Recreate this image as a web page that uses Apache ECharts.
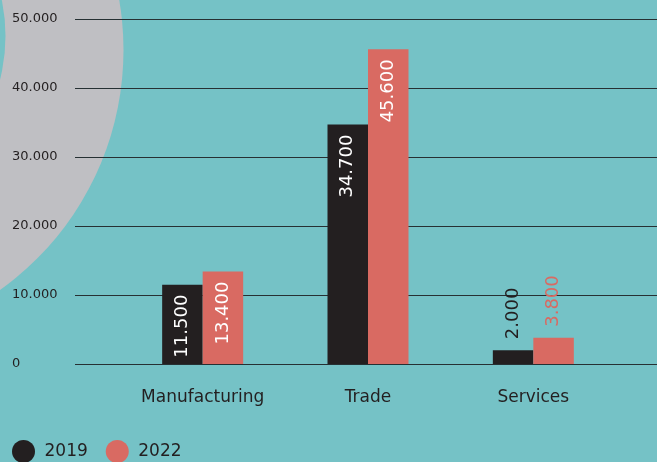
<!DOCTYPE html>
<html>
<head>
<meta charset="utf-8">
<script src="https://cdn.jsdelivr.net/npm/echarts@6/dist/echarts.min.js"></script>
<style>html,body{margin:0;padding:0;background:#75c2c6;}#c{width:657px;height:462px;}</style>
</head>
<body>
<div id="c"></div>
<script>
const categories = ['Manufacturing', 'Trade', 'Services'];
const seriesNames = ['2019', '2022'];
const values2019 = [11500, 34700, 2000];
const values2022 = [13400, 45600, 3800];
const yTicks = [0, 10000, 20000, 30000, 40000, 50000];

const DARK = '#231f20';
const SALMON = '#d96a62';

function fmt(v) {
  return String(v).replace(/\B(?=(\d{3})+(?!\d))/g, '.');
}

const insideLabel = {
  show: true, position: 'insideTop', rotate: 90, align: 'right', verticalAlign: 'middle',
  distance: 10, color: '#ffffff', fontFamily: 'DejaVu Sans', fontSize: 18,
  formatter: p => fmt(p.value)
};
function dataWithLabels(vals, outsideColor) {
  return vals.map(v => {
    if (v < 8000) {
      return { value: v, label: { position: 'top', align: 'left', color: outsideColor, distance: 11 } };
    }
    return v;
  });
}

const chart = echarts.init(document.getElementById('c'), null, { renderer: 'canvas' });
chart.setOption({
  backgroundColor: '#75c2c6',
  animation: false,
  graphic: [
    { type: 'circle', z: -10, silent: true, shape: { cx: -171.5, cy: 50, r: 295 }, style: { fill: '#bfbfc3' } },
    { type: 'circle', z: -9, silent: true, shape: { cx: -171.5, cy: 36, r: 177 }, style: { fill: '#75c2c6' } }
  ],
  legend: {
    left: 12, top: 440, padding: 0, itemWidth: 23, itemHeight: 23, itemGap: 18, icon: 'circle',
    textStyle: { color: DARK, fontFamily: 'DejaVu Sans', fontSize: 17, padding: [0, 0, 0, 4.5] },
    data: seriesNames
  },
  grid: [
    { left: 75, right: 0, top: 19, bottom: 98 },
    { left: 120, right: 41, top: 19, bottom: 98 }
  ],
  xAxis: [
    { gridIndex: 0, type: 'value', show: false, min: 0, max: 1 },
    { gridIndex: 1, type: 'category', data: categories,
      axisLine: { show: false }, axisTick: { show: false },
      axisLabel: { color: DARK, fontFamily: 'DejaVu Sans', fontSize: 17, margin: 25 } }
  ],
  yAxis: [
    { gridIndex: 0, type: 'value', min: yTicks[0], max: yTicks[yTicks.length - 1], interval: yTicks[1] - yTicks[0],
      axisLine: { show: false }, axisTick: { show: false },
      splitLine: { lineStyle: { color: '#263033', width: 1 } },
      axisLabel: { color: DARK, fontFamily: 'DejaVu Sans', fontSize: 13, align: 'left', margin: 63, formatter: v => fmt(v) } },
    { gridIndex: 1, type: 'value', min: yTicks[0], max: yTicks[yTicks.length - 1], show: false, splitLine: { show: false } }
  ],
  series: [
    { name: seriesNames[0], type: 'bar', xAxisIndex: 1, yAxisIndex: 1, barWidth: 40.5, barGap: '0%',
      itemStyle: { color: DARK }, label: insideLabel, data: dataWithLabels(values2019, DARK) },
    { name: seriesNames[1], type: 'bar', xAxisIndex: 1, yAxisIndex: 1, barWidth: 40.5, barGap: '0%',
      itemStyle: { color: SALMON }, label: insideLabel, data: dataWithLabels(values2022, SALMON) }
  ]
});
</script>
</body>
</html>
